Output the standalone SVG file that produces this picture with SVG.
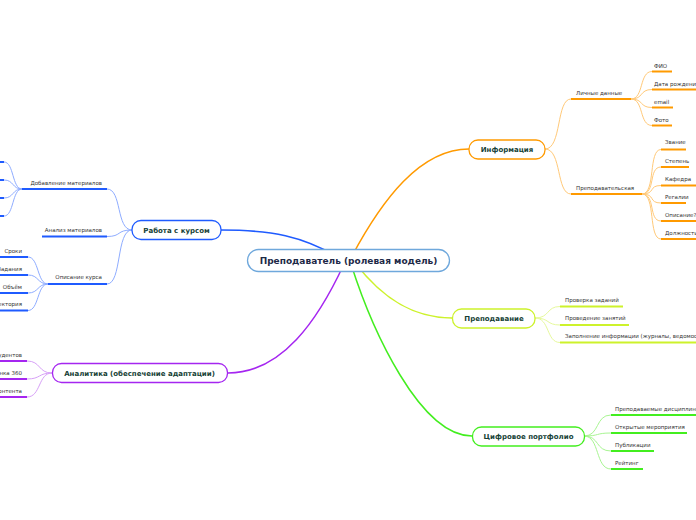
<svg xmlns="http://www.w3.org/2000/svg" width="696" height="520" viewBox="0 0 696 520">
<style>
.bg{fill:#ffffff}
.main{fill:none;stroke-width:1.5;stroke-linecap:round}
.thin{fill:none;stroke-width:1}
.ul{fill:none;stroke-width:2}
.node{fill:#ffffff;stroke-width:1.3}
.nt{font-family:"DejaVu Sans",sans-serif;font-weight:bold;font-size:7px;fill:#163f36;text-anchor:middle}
.ct{font-family:"DejaVu Sans",sans-serif;font-weight:bold;font-size:9px;fill:#1d2947;text-anchor:middle}
.st{font-family:"DejaVu Sans",sans-serif;font-size:5.5px;fill:#333333}
.e{text-anchor:end}
.bl{stroke:#1f5bff}.blc{stroke:#8eacff}
.or{stroke:#ff9a00}.orc{stroke:#ffc978}
.ye{stroke:#cdf22b}.yec{stroke:#e6f99c}
.gr{stroke:#43ee1f}.grc{stroke:#a8f592}
.pu{stroke:#a526f0}.puc{stroke:#d7a0f7}
</style>
<rect class="bg" x="0" y="0" width="696" height="520"/>
<g id="connectors">
<path class="main bl" d="M221,230 C272,230 302,236 340,258"/>
<path class="main or" d="M469,149 C420,149 382,200 352,256"/>
<path class="main ye" d="M452,318 C410,318 380,295 356,264"/>
<path class="main gr" d="M472,436 C420,436 372,330 351,264"/>
<path class="main pu" d="M228,373 C282,373 318,320 344,264"/>
<!-- Информация -->
<path class="thin orc" d="M545,149 C562,149 556,99 571,99"/>
<path class="thin orc" d="M545,149 C562,149 556,194 571,194"/>
<path class="ul or" d="M571,99 H631"/>
<path class="ul or" d="M571,194 H642"/>
<path class="thin orc" d="M631,99 C644,99 639,71.5 652,71.5"/>
<path class="thin orc" d="M631,99 C644,99 639,89.5 652,89.5"/>
<path class="thin orc" d="M631,99 C644,99 639,107.5 652,107.5"/>
<path class="thin orc" d="M631,99 C644,99 639,125.5 652,125.5"/>
<path class="ul or" d="M652,71.5 H672"/>
<path class="ul or" d="M652,89.5 H696"/>
<path class="ul or" d="M652,107.5 H673"/>
<path class="ul or" d="M652,125.5 H672"/>
<path class="thin orc" d="M642,194 C656,194 648,149.5 661,149.5"/>
<path class="thin orc" d="M642,194 C656,194 648,167 661,167"/>
<path class="thin orc" d="M642,194 C656,194 648,185.5 661,185.5"/>
<path class="thin orc" d="M642,194 C656,194 648,203 661,203"/>
<path class="thin orc" d="M642,194 C656,194 648,221 661,221"/>
<path class="thin orc" d="M642,194 C656,194 648,239 661,239"/>
<path class="ul or" d="M661,149.5 H686"/>
<path class="ul or" d="M661,167 H689"/>
<path class="ul or" d="M661,185.5 H696"/>
<path class="ul or" d="M661,203 H686"/>
<path class="ul or" d="M661,221 H696"/>
<path class="ul or" d="M661,239 H696"/>
<!-- Преподавание -->
<path class="thin yec" d="M535,318 C550,318 546,306.5 560,306.5"/>
<path class="thin yec" d="M535,318 C550,318 546,325 560,325"/>
<path class="thin yec" d="M535,318 C550,318 546,342.5 560,342.5"/>
<path class="ul ye" d="M560,306.5 H623"/>
<path class="ul ye" d="M560,325 H629"/>
<path class="ul ye" d="M560,342.5 H696"/>
<!-- Цифровое портфолио -->
<path class="thin grc" d="M584,436 C600,436 595,415 611,415"/>
<path class="thin grc" d="M584,436 C600,436 595,433 611,433"/>
<path class="thin grc" d="M584,436 C600,436 595,451 611,451"/>
<path class="thin grc" d="M584,436 C600,436 595,469 611,469"/>
<path class="ul gr" d="M611,415 H696"/>
<path class="ul gr" d="M611,433 H687"/>
<path class="ul gr" d="M611,451 H654"/>
<path class="ul gr" d="M611,469 H643"/>
<!-- Работа с курсом -->
<path class="thin blc" d="M132,230 C116,230 122,189 107,189"/>
<path class="thin blc" d="M132,230 C116,230 122,236.5 107,236.5"/>
<path class="thin blc" d="M132,230 C116,230 122,284 107,284"/>
<path class="ul bl" d="M22,189 H107"/>
<path class="ul bl" d="M42,236.5 H107"/>
<path class="ul bl" d="M48,284 H107"/>
<path class="thin blc" d="M22,189 C12,189 14,162 4,162"/>
<path class="thin blc" d="M22,189 C12,189 14,180 4,180"/>
<path class="thin blc" d="M22,189 C12,189 14,198 4,198"/>
<path class="thin blc" d="M22,189 C12,189 14,216 4,216"/>
<path class="ul bl" d="M0,162 H4"/>
<path class="ul bl" d="M0,180 H4"/>
<path class="ul bl" d="M0,198 H4"/>
<path class="ul bl" d="M0,216 H4"/>
<path class="thin blc" d="M48,284 C37,284 39,257 28,257"/>
<path class="thin blc" d="M48,284 C37,284 39,275 28,275"/>
<path class="thin blc" d="M48,284 C37,284 39,293 28,293"/>
<path class="thin blc" d="M48,284 C37,284 39,310.5 28,310.5"/>
<path class="ul bl" d="M0,257 H28"/>
<path class="ul bl" d="M0,275 H28"/>
<path class="ul bl" d="M0,293 H28"/>
<path class="ul bl" d="M0,310.5 H28"/>
<!-- Аналитика -->
<path class="thin puc" d="M52,373 C38,373 41,361 27,361"/>
<path class="thin puc" d="M52,373 C38,373 41,379 27,379"/>
<path class="thin puc" d="M52,373 C38,373 41,397 27,397"/>
<path class="ul pu" d="M0,361 H27"/>
<path class="ul pu" d="M0,379 H27"/>
<path class="ul pu" d="M0,397 H27"/>
</g>
<g id="center">
<rect class="node" x="247.5" y="249.5" width="202" height="22" rx="11" stroke="#6fa8dc"/>
<text class="ct" x="348.5" y="264">Преподаватель (ролевая модель)</text>
</g>
<g id="rabota">
<rect class="node bl" x="132" y="220.5" width="89" height="19" rx="9"/>
<text class="nt" x="176.5" y="232.5">Работа с курсом</text>
</g>
<g id="info">
<rect class="node or" x="469" y="140" width="76" height="19" rx="9"/>
<text class="nt" x="507" y="152">Информация</text>
</g>
<g id="prepodavanie">
<rect class="node ye" x="452.5" y="309" width="82.5" height="19" rx="9"/>
<text class="nt" x="494" y="321">Преподавание</text>
</g>
<g id="portfolio">
<rect class="node gr" x="472.5" y="427" width="112" height="19" rx="9"/>
<text class="nt" x="528.5" y="439">Цифровое портфолио</text>
</g>
<g id="analitika">
<rect class="node pu" x="52.5" y="363.5" width="175" height="19" rx="9"/>
<text class="nt" x="139.5" y="375.5">Аналитика (обеспечение адаптации)</text>
</g>
<g id="info-children">
<text class="st" x="576" y="95">Личные данные</text>
<text class="st" x="576" y="190">Преподавательская</text>
<text class="st" x="654" y="67.7">ФИО</text>
<text class="st" x="654" y="86">Дата рождения</text>
<text class="st" x="654" y="104">email</text>
<text class="st" x="654" y="122">Фото</text>
<text class="st" x="665" y="144.3">Звание</text>
<text class="st" x="665" y="162.7">Степень</text>
<text class="st" x="665" y="180.7">Кафедра</text>
<text class="st" x="665" y="198.7">Регалии</text>
<text class="st" x="665" y="217">Описание?</text>
<text class="st" x="665" y="235">Должность</text>
</g>
<g id="prep-children">
<text class="st" x="565" y="302">Проверка заданий</text>
<text class="st" x="565" y="320">Проведение занятий</text>
<text class="st" x="565" y="338">Заполнение информации (журналы, ведомости)</text>
</g>
<g id="portfolio-children">
<text class="st" x="615" y="411">Преподаваемые дисциплины</text>
<text class="st" x="615" y="429">Открытые мероприятия</text>
<text class="st" x="615" y="447">Публикации</text>
<text class="st" x="615" y="465">Рейтинг</text>
</g>
<g id="rabota-children">
<text class="st e" x="102" y="184.5">Добавление материалов</text>
<text class="st e" x="102" y="232">Анализ материалов</text>
<text class="st e" x="102" y="279">Описание курса</text>
<text class="st e" x="22" y="252.5">Сроки</text>
<text class="st e" x="22" y="270.5">Задания</text>
<text class="st e" x="22" y="288.5">Объём</text>
<text class="st e" x="22" y="306">Траектория</text>
</g>
<g id="analitika-children">
<text class="st e" x="22" y="357">студентов</text>
<text class="st e" x="22" y="375">Оценка 360</text>
<text class="st e" x="22" y="393">контента</text>
</g>
</svg>
